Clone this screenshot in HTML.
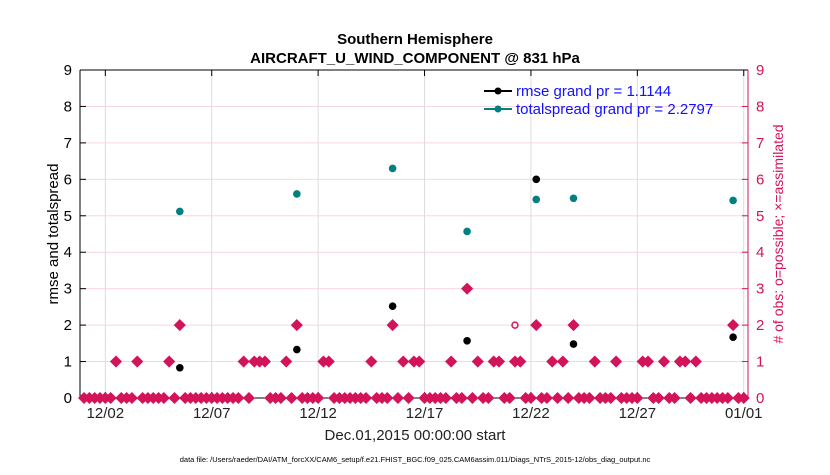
<!DOCTYPE html>
<html><head><meta charset="utf-8"><style>
body{margin:0;background:#fff}
svg text{font-family:"Liberation Sans",sans-serif}
</style></head><body>
<svg id="chart" width="830" height="470" xmlns="http://www.w3.org/2000/svg">
<rect width="830" height="470" fill="#fff"/>
<text x="415" y="44" font-size="15" font-weight="bold" text-anchor="middle">Southern Hemisphere</text>
<text x="415" y="63" font-size="15" font-weight="bold" text-anchor="middle">AIRCRAFT_U_WIND_COMPONENT @ 831 hPa</text>
<g id="grid"></g>
<g id="axes"></g>
<g id="marks"></g>
<text transform="translate(58,234) rotate(-90)" font-size="15" text-anchor="middle">rmse and totalspread</text>
<text transform="translate(783,234) rotate(-90)" font-size="14" fill="#d3135a" text-anchor="middle"># of obs: o=possible; ×=assimilated</text>
<text x="415" y="440" font-size="15" text-anchor="middle" fill="#222">Dec.01,2015 00:00:00 start</text>
<text x="415" y="462" font-size="7.5" text-anchor="middle">data file: /Users/raeder/DAI/ATM_forcXX/CAM6_setup/f.e21.FHIST_BGC.f09_025.CAM6assim.011/Diags_NTrS_2015-12/obs_diag_output.nc</text>
<g>
<line x1="484" y1="91" x2="512" y2="91" stroke="#000" stroke-width="2"/><circle cx="498" cy="91" r="3.5" fill="#000"/>
<text x="516" y="96" font-size="15" fill="#1010ff">rmse grand pr = 1.1144</text>
<line x1="484" y1="109" x2="512" y2="109" stroke="#008080" stroke-width="2"/><circle cx="498" cy="109" r="3.5" fill="#008080"/>
<text x="516" y="114" font-size="15" fill="#1010ff">totalspread grand pr = 2.2797</text>
</g>
</svg>
<script>
const xTickLabels=["12/02","12/07","12/12","12/17","12/22","12/27","01/01"];
const xTickDays=[1,6,11,16,21,26,31];
const yTicks=[0,1,2,3,4,5,6,7,8,9];
const rmseSlots=[18,40,58,72,85,92,122];
const rmseValues=[0.83,1.33,2.52,1.57,6.0,1.48,1.67];
const spreadValues=[5.12,5.6,6.3,4.57,5.45,5.48,5.42];
const oneSlots=[6,10,16,30,32,33,34,38,45,46,54,60,62,63,69,74,77,78,81,82,88,90,96,100,105,106,109,112,113,115];
const twoSlots=[18,40,58,85,92,122];
const threeSlots=[72];
const possibleSlots=[81];
const possibleValues=[2];
const NS="http://www.w3.org/2000/svg";
const L=80,R=748,T=70,B=398;
const d0=-0.19,d1=31.2;
function xs(d){return L+(d-d0)/(d1-d0)*(R-L);}
function ys(v){return B-v/9*(B-T);}
function slotDay(i){return i/4;}
function mk(tag,attrs,parent){const e=document.createElementNS(NS,tag);for(const k in attrs)e.setAttribute(k,attrs[k]);parent.appendChild(e);return e;}
const grid=document.getElementById('grid'),axes=document.getElementById('axes'),marks=document.getElementById('marks');
yTicks.forEach(v=>{
  const g=mk('line',{x1:L,x2:R,y1:ys(v),y2:ys(v),stroke:'#f9d6e3','stroke-width':1},grid);
  
  
  const t=mk('text',{x:L-8,y:ys(v)+5,'font-size':15,'text-anchor':'end'},axes);t.textContent=v;
  
  
  const t2=mk('text',{x:R+8,y:ys(v)+5,'font-size':15,fill:'#d3135a'},axes);t2.textContent=v;
  
  
  mk('line',{x1:L,x2:L+6,y1:ys(v),y2:ys(v),stroke:'#000'},axes);
  mk('line',{x1:R-6,x2:R,y1:ys(v),y2:ys(v),stroke:'#d3135a'},axes);
});
xTickDays.forEach((d,i)=>{
  const g=mk('line',{x1:xs(d),x2:xs(d),y1:T,y2:B,stroke:'#dcdcdc'},grid);
  
  
  mk('line',{x1:xs(d),x2:xs(d),y1:B,y2:B-6,stroke:'#000'},axes);
  mk('line',{x1:xs(d),x2:xs(d),y1:T,y2:T+6,stroke:'#000'},axes);
  const t=mk('text',{x:xs(d),y:B+20,'font-size':15,'text-anchor':'middle',fill:'#222'},axes);t.textContent=xTickLabels[i];
  
  
});
mk('line',{x1:L,x2:R,y1:T,y2:T,stroke:'#000'},axes);
mk('line',{x1:L,x2:R,y1:B,y2:B,stroke:'#000'},axes);
mk('line',{x1:L,x2:L,y1:T,y2:B,stroke:'#000'},axes);
mk('line',{x1:R,x2:R,y1:T,y2:B,stroke:'#d3135a'},axes);
function diamond(slot,v){
  const x=xs(slotDay(slot)),y=ys(v),s=5;
  const p=mk('polygon',{points:`${x},${y-s} ${x+s},${y} ${x},${y+s} ${x-s},${y}`,fill:'#d3135a',stroke:'#d3135a','stroke-width':1.5},marks);
  
  
}
const counts={};
oneSlots.forEach(s=>counts[s]=1);twoSlots.forEach(s=>counts[s]=2);threeSlots.forEach(s=>counts[s]=3);
for(let i=0;i<=124;i++){if(counts[i]===undefined)diamond(i,0);}
oneSlots.forEach(s=>diamond(s,1));twoSlots.forEach(s=>diamond(s,2));threeSlots.forEach(s=>diamond(s,3));
possibleSlots.forEach((s,i)=>{
  const c=mk('circle',{cx:xs(slotDay(s)),cy:ys(possibleValues[i]),r:3,fill:'none',stroke:'#d3135a','stroke-width':1.5},marks);
  
  
});
rmseSlots.forEach((s,i)=>{
  const c=mk('circle',{cx:xs(slotDay(s)),cy:ys(rmseValues[i]),r:3.8,fill:'#000'},marks);
  
  
  const c2=mk('circle',{cx:xs(slotDay(s)),cy:ys(spreadValues[i]),r:3.8,fill:'#008080'},marks);
  
  
});
</script>
</body></html>
